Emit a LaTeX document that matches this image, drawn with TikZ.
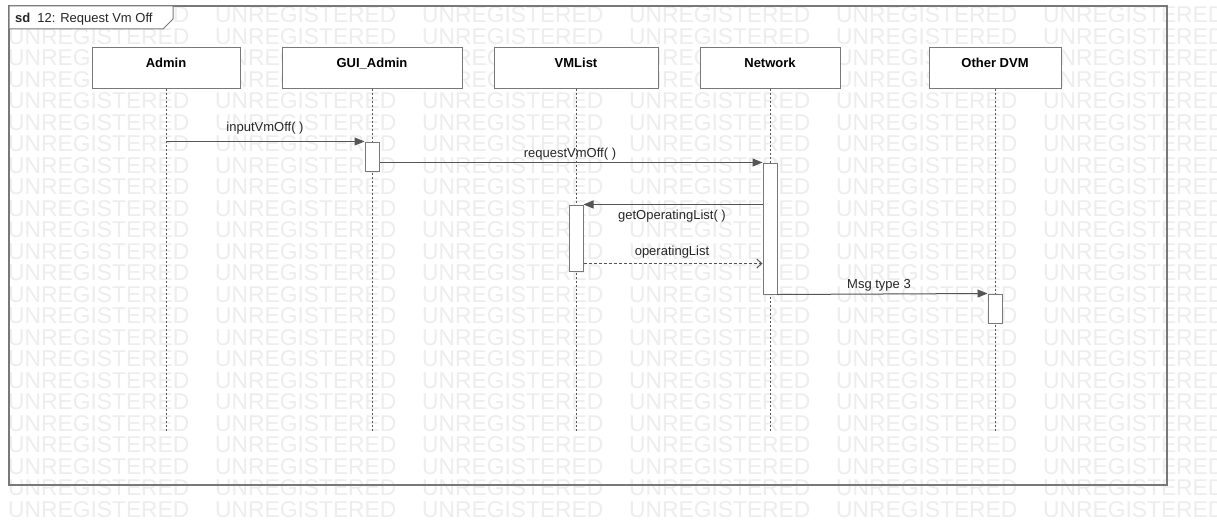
\documentclass[tikz,border=0pt]{standalone}
\usepackage{fontspec}
\setmainfont{Liberation Sans}
\usetikzlibrary{arrows.meta}
\definecolor{linegray}{HTML}{555555}
\definecolor{boxgray}{HTML}{787878}
\definecolor{wmgray}{HTML}{EDEDED}

\begin{document}
\begin{tikzpicture}[x=1pt, y=-1pt,
  wm/.style={anchor=west, inner sep=0pt, text=wmgray, font=\fontsize{22.8}{24}\selectfont},
  hdr/.style={draw=boxgray, line width=1pt, fill=white, minimum height=40pt, text height=10pt, text depth=12pt, inner sep=0pt, font=\fontsize{13}{15}\selectfont\bfseries},
  act/.style={draw=boxgray, line width=1pt, fill=white, minimum width=14pt, inner sep=0pt},
  life/.style={draw=linegray, line width=0.8pt, dash pattern=on 2pt off 2pt},
  msg/.style={draw=linegray, line width=1pt, -{Triangle[length=10pt,width=8pt]}},
  ret/.style={draw=linegray, line width=1pt, dash pattern=on 3pt off 2pt, -{Straight Barb[length=5pt,width=9pt]}},
  lbl/.style={anchor=base, inner sep=0pt, text=black!85, font=\fontsize{13}{15}\selectfont}
]
\clip (0,0) rectangle (1217,527);
\fill[white] (0,0) rectangle (1217,527);

% watermark
\foreach \row in {0,...,23}
  \foreach \col in {0,...,5}
    \node[wm] (wm-\row-\col) at (8+207*\col, 15+21.5*\row) {UNREGISTERED};

% frame
\draw[draw=boxgray, line width=1.2pt] (9,6) rectangle (1167,485);
\draw[draw=boxgray, line width=1pt, fill=white] (9,6) -- (173,6) -- (173,19) -- (163,29) -- (9,29) -- cycle;
\node[anchor=base west, inner sep=0pt, text=black!85, font=\fontsize{13}{15}\selectfont] (title) at (15,23) {\textbf{sd}\hspace{7pt}12: Request Vm Off};

% lifelines
\coordinate (bottom) at (0,432);
\node[hdr, minimum width=148pt] (admin) at (166,68) {Admin};
\node[hdr, minimum width=180pt] (gui) at (372,68) {GUI\_Admin};
\node[hdr, minimum width=164pt] (vmlist) at (576,68) {VMList};
\node[hdr, minimum width=140pt] (network) at (770,68) {Network};
\node[hdr, minimum width=132pt] (otherdvm) at (995,68) {Other DVM};
\foreach \n in {admin,gui,vmlist,network,otherdvm}
  \draw[life] (\n.south) -- (\n.south |- bottom);

% activations
\node[act, minimum height=29pt] (actgui) at (372,156.5) {};
\node[act, minimum height=66pt] (actvml) at (576,238) {};
\node[act, minimum height=131pt] (actnet) at (770,228.5) {};
\node[act, minimum height=29pt] (actdvm) at (995,308.5) {};
\path (actvml.south east) ++(0,-8) coordinate (retfrom);

% messages
\draw[msg] (actgui.north west -| admin.south) -- (actgui.north west);
\draw[msg] (actnet.north west -| actgui.east) -- (actnet.north west);
\draw[msg] (actvml.north east -| actnet.west) -- (actvml.north east);
\draw[ret] (retfrom) -- (retfrom -| actnet.west);
\draw[msg] (actnet.south east) -- (actdvm.north west);

\node[lbl] (lin) at (265,131) {inputVmOff( )};
\node[lbl] (lreq) at (570,157) {requestVmOff( )};
\node[lbl] (lget) at (672,219) {getOperatingList( )};
\node[lbl] (lops) at (672,255) {operatingList};
\node[lbl] (lmsg) at (879,288) {Msg type 3};
\end{tikzpicture}
\end{document}
